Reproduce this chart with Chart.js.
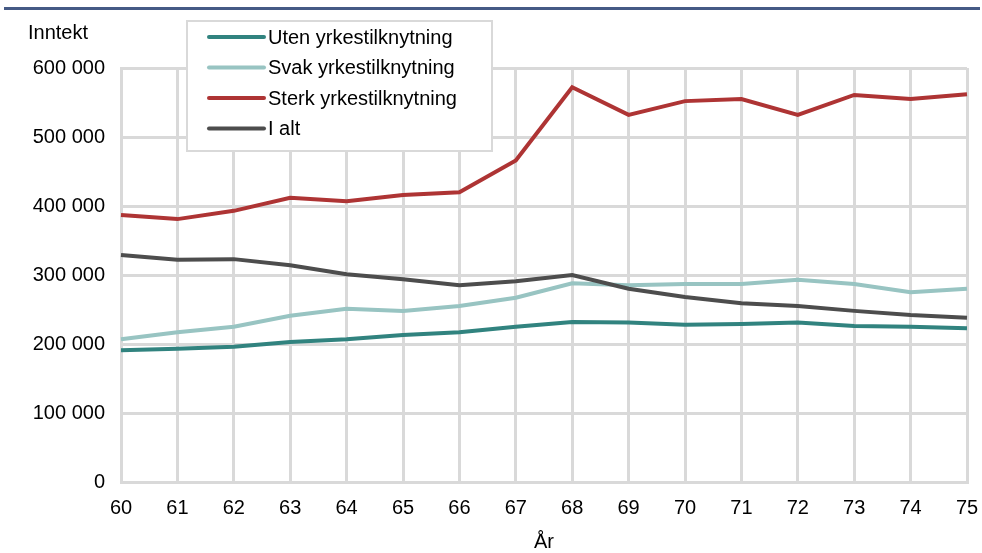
<!DOCTYPE html>
<html>
<head>
<meta charset="utf-8">
<script src="https://cdn.jsdelivr.net/npm/chart.js@4.4.1/dist/chart.umd.min.js"></script>
<style>
  body { margin: 0; background: #fff; }
  #wrap { position: relative; width: 982px; height: 553px; }
</style>
</head>
<body>
<div id="wrap"><canvas id="chart" width="982" height="553"></canvas></div>
<script>
// Alder (år)
const years = ['60', '61', '62', '63', '64', '65', '66', '67', '68', '69', '70', '71', '72', '73', '74', '75'];

const seriesNames = ['Uten yrkestilknytning', 'Svak yrkestilknytning', 'Sterk yrkestilknytning', 'I alt'];

const uten  = [191000, 193000, 196000, 203000, 207000, 213000, 217000, 225000, 232000, 231000, 228000, 229000, 231000, 226000, 225000, 223000];
const svak  = [207000, 217000, 225000, 241000, 251000, 248000, 255000, 267000, 288000, 285000, 287000, 287000, 293000, 287000, 275000, 280000];
const sterk = [387000, 381000, 393000, 412000, 407000, 416000, 420000, 466000, 572000, 532000, 552000, 555000, 532000, 561000, 555000, 562000];
const iAlt  = [329000, 322000, 323000, 314000, 301000, 294000, 285000, 291000, 300000, 280000, 268000, 259000, 255000, 248000, 242000, 238000];

const colors = ['#31837f', '#98c4c2', '#ae3434', '#4d4d4d'];
const FONT = '"Liberation Sans", Arial, sans-serif';

function fmt(v) {
    return String(v).replace(/\B(?=(\d{3})+(?!\d))/g, ' ');
}

// Draws the rule at the top, axis labels and the boxed legend
const extras = {
    id: 'extras',
    beforeDraw(chart) {
        const ctx = chart.ctx;
        ctx.save();
        ctx.fillStyle = '#fff';
        ctx.fillRect(0, 0, chart.width, chart.height);
        ctx.fillStyle = '#455a85';
        ctx.fillRect(4, 7, 976, 3);
        ctx.restore();
    },
    afterDraw(chart) {
        const ctx = chart.ctx;
        const area = chart.chartArea;
        ctx.save();
        ctx.font = '20px ' + FONT;
        ctx.fillStyle = '#000';
        ctx.textBaseline = 'middle';
        ctx.textAlign = 'left';
        ctx.fillText('Inntekt', 28, 33);
        ctx.textAlign = 'center';
        ctx.fillText('År', (area.left + area.right) / 2, 542);

        // legend box
        const bx = 187, by = 21, bw = 305, bh = 130;
        ctx.fillStyle = '#fff';
        ctx.fillRect(bx, by, bw, bh);
        ctx.strokeStyle = '#d9d9d9';
        ctx.lineWidth = 2;
        ctx.strokeRect(bx, by, bw, bh);

        ctx.textAlign = 'left';
        ctx.lineCap = 'round';
        chart.data.datasets.forEach((ds, i) => {
            const y = 37 + i * 30.5;
            ctx.strokeStyle = ds.borderColor;
            ctx.lineWidth = 4;
            ctx.beginPath();
            ctx.moveTo(209, y);
            ctx.lineTo(264, y);
            ctx.stroke();
            ctx.fillStyle = '#000';
            ctx.fillText(ds.label, 268, y + 1);
        });
        ctx.restore();
    }
};

const datasets = [uten, svak, sterk, iAlt].map((data, i) => ({
    label: seriesNames[i],
    data: data,
    borderColor: colors[i],
    backgroundColor: colors[i],
    borderWidth: 4,
    pointRadius: 0,
    tension: 0,
    fill: false
}));
// draw "I alt" and the others in the order they appear in the legend, topmost last
datasets.forEach((d, i) => { d.order = 4 - i; });

const ctx = document.getElementById('chart').getContext('2d');
new Chart(ctx, {
    type: 'line',
    data: { labels: years, datasets: datasets },
    options: {
        responsive: false,
        animation: false,
        devicePixelRatio: 1,
        layout: { padding: { top: 68, right: 15, left: 0, bottom: 0 } },
        plugins: {
            legend: { display: false },
            tooltip: { enabled: false },
            title: { display: false }
        },
        scales: {
            x: {
                offset: false,
                grid: { color: '#d9d9d9', lineWidth: 3, drawTicks: false },
                border: { color: '#d9d9d9', width: 3 },
                ticks: { color: '#000', font: { family: FONT, size: 20 }, padding: 14, maxRotation: 0, autoSkip: false },
                afterFit(scale) {
                    scale.height = 71;
                    scale.paddingRight = 0;
                    scale.paddingLeft = 0;
                }
            },
            y: {
                min: 0,
                max: 600000,
                grid: { color: '#d9d9d9', lineWidth: 3, drawTicks: false },
                border: { color: '#d9d9d9', width: 3 },
                ticks: {
                    stepSize: 100000,
                    color: '#000',
                    font: { family: FONT, size: 20 },
                    padding: 16,
                    callback: v => fmt(v)
                },
                afterFit(scale) {
                    scale.width = 121;
                    scale.paddingTop = 0;
                    scale.paddingBottom = 0;
                }
            }
        }
    },
    plugins: [extras]
});
</script>
</body>
</html>
